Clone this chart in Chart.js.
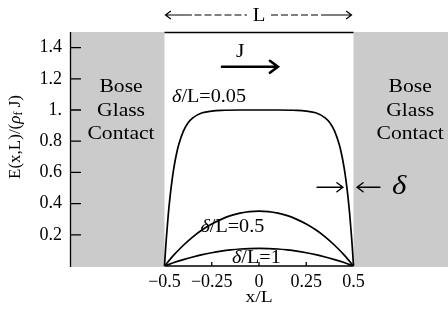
<!DOCTYPE html>
<html>
<head>
<meta charset="utf-8">
<script src="https://cdn.jsdelivr.net/npm/chart.js@4"></script>
<style>
  html, body { margin: 0; padding: 0; background: #fff; }
  #wrap { width: 448px; height: 313px; }
</style>
</head>
<body>
<div id="wrap"><canvas id="chart" width="448" height="313"></canvas></div>
<script>
// x/L positions and E(x,L)/(rho_f J) values
const X_SMOOTH = [-0.5, -0.45, -0.4, -0.35, -0.3, -0.25, -0.2, -0.15, -0.1, -0.05, 0,
                  0.05, 0.1, 0.15, 0.2, 0.25, 0.3, 0.35, 0.4, 0.45, 0.5];
const E_HALF = [0, 0.071, 0.133, 0.187, 0.232, 0.269, 0.299, 0.323, 0.339, 0.349, 0.352,
                0.349, 0.339, 0.323, 0.299, 0.269, 0.232, 0.187, 0.133, 0.071, 0];
const E_ONE = [0, 0.022, 0.041, 0.058, 0.073, 0.085, 0.095, 0.103, 0.109, 0.112, 0.113,
               0.112, 0.109, 0.103, 0.095, 0.085, 0.073, 0.058, 0.041, 0.022, 0];
const X_SHARP = [-0.5, -0.495, -0.49, -0.48, -0.47, -0.46, -0.45, -0.44, -0.425, -0.4, -0.375, -0.35,
                 -0.3, -0.25, -0.2, -0.1, 0, 0.1, 0.2, 0.25, 0.3, 0.35, 0.375, 0.4, 0.425, 0.44,
                 0.45, 0.46, 0.47, 0.48, 0.49, 0.495, 0.5];
const E_SHARP = [0, 0.095, 0.181, 0.330, 0.451, 0.551, 0.632, 0.699, 0.777, 0.865, 0.918, 0.950,
                 0.982, 0.993, 0.998, 1.0, 1.0, 1.0, 0.998, 0.993, 0.982, 0.950, 0.918, 0.865, 0.777, 0.699,
                 0.632, 0.551, 0.451, 0.330, 0.181, 0.095, 0];
const X_TICKS = [-0.5, -0.25, 0, 0.25, 0.5];
const Y_TICKS = [0.2, 0.4, 0.6, 0.8, 1.0, 1.2, 1.4];
const CURVE_NAMES = ['0.05', '0.5', '1'];

const SERIF = '"Liberation Serif", "Times New Roman", serif';
const pts = (xs, ys) => xs.map((v, i) => ({ x: v, y: ys[i] }));
const fmtX = v => (v < 0 ? '\u2212' : '') + Math.abs(v);
const fmtY = v => (v === 1 ? '1.' : v.toFixed(1));

// draw a run of text pieces; parts: {t, it, size, dy}
function rich(ctx, parts, x, y, align, sx) {
  sx = sx || 1;
  let w = 0;
  parts.forEach(p => {
    ctx.font = (p.it ? 'italic ' : '') + (p.size || 18) + 'px ' + SERIF;
    p.w = ctx.measureText(p.t).width;
    w += p.w;
  });
  ctx.save();
  ctx.translate(x, y);
  ctx.scale(sx, 1);
  let cx = align === 'center' ? -w / 2 : 0;
  ctx.textBaseline = 'middle';
  ctx.textAlign = 'left';
  parts.forEach(p => {
    ctx.font = (p.it ? 'italic ' : '') + (p.size || 18) + 'px ' + SERIF;
    ctx.fillText(p.t, cx, p.dy || 0);
    cx += p.w;
  });
  ctx.restore();
}

function arrow(ctx, x1, x2, y, head, lw) {
  const dir = Math.sign(x2 - x1);
  ctx.save();
  ctx.lineWidth = lw;
  ctx.lineCap = 'round';
  ctx.beginPath();
  ctx.moveTo(x1, y); ctx.lineTo(x2, y);
  ctx.moveTo(x2 - dir * head, y - head * 0.75); ctx.lineTo(x2, y); ctx.lineTo(x2 - dir * head, y + head * 0.75);
  ctx.stroke();
  ctx.restore();
}

const frame = {
  id: 'frame',
  beforeDatasetsDraw(chart) {
    const { ctx, chartArea: a, scales: { x, y } } = chart;
    const xl = x.getPixelForValue(-0.5), xr = x.getPixelForValue(0.5);
    ctx.save();
    ctx.fillStyle = '#cbcbcb';
    ctx.fillRect(a.left, a.top, xl - a.left, a.bottom - a.top + 1);
    ctx.fillRect(xr, a.top, a.right - xr, a.bottom - a.top + 1);
    ctx.strokeStyle = '#000';
    ctx.lineWidth = 1.3;
    ctx.beginPath();
    ctx.moveTo(a.left + 0.5, a.top); ctx.lineTo(a.left + 0.5, a.bottom + 1);
    ctx.moveTo(xl, a.top + 0.5); ctx.lineTo(xr, a.top + 0.5);
    ctx.moveTo(xl, a.bottom); ctx.lineTo(xr, a.bottom);
    Y_TICKS.forEach(v => {
      const py = y.getPixelForValue(v);
      ctx.moveTo(a.left, py); ctx.lineTo(a.left + 11, py);
    });
    X_TICKS.slice(1, -1).forEach(v => {
      const px = x.getPixelForValue(v);
      ctx.moveTo(px, a.bottom); ctx.lineTo(px, a.bottom - 4);
    });
    ctx.stroke();
    ctx.restore();
  },
  afterDatasetsDraw(chart) {
    const { ctx, scales: { x, y } } = chart;
    const X = v => x.getPixelForValue(v), Y = v => y.getPixelForValue(v);
    ctx.save();
    ctx.fillStyle = '#000';
    ctx.strokeStyle = '#000';

    // L bracket above the sample
    const ly = 15, l0 = X(-0.5) + 1, l1 = X(0.5) - 2, lc = X(0);
    arrow(ctx, l0 + 26, l0, ly, 5, 1.2);
    arrow(ctx, l1 - 30, l1, ly, 5, 1.2);
    ctx.save();
    ctx.lineWidth = 1.2;
    ctx.setLineDash([7, 3]);
    ctx.beginPath();
    ctx.moveTo(l0 + 29, ly); ctx.lineTo(lc - 12, ly);
    ctx.moveTo(lc + 12, ly); ctx.lineTo(l1 - 32, ly);
    ctx.stroke();
    ctx.restore();
    rich(ctx, [{ t: 'L' }], lc, ly + 1, 'center', 1.15);

    // current arrow
    rich(ctx, [{ t: 'J', size: 18 }], X(-0.1), Y(1.37), 'center', 1.2);
    arrow(ctx, X(-0.196), X(0.1), Y(1.277), 8, 2.6);

    // curve labels
    const lab = [[-0.46, 1.08], [-0.31, 0.25], [-0.143, 0.05]];
    CURVE_NAMES.forEach((n, i) => {
      rich(ctx, [{ t: '\u03b4', it: true }, { t: '/L=' + n }], X(lab[i][0]), Y(lab[i][1]), 'left', 1.12);
    });

    // penetration depth marker
    arrow(ctx, X(0.307), X(0.444), Y(0.505), 6, 1.4);
    arrow(ctx, X(0.64), X(0.519), Y(0.505), 6, 1.4);
    rich(ctx, [{ t: '\u03b4', it: true, size: 28 }], X(0.704), Y(0.51), 'left', 1.1);

    // contacts
    [-0.73, 0.8].forEach(cx => {
      ['Bose', 'Glass', 'Contact'].forEach((w, k) => {
        rich(ctx, [{ t: w }], X(cx), Y([1.148, 0.99, 0.845][k]), 'center', 1.2);
      });
    });

    // y axis title with subscript
    ctx.save();
    ctx.translate(16, 137);
    ctx.rotate(-Math.PI / 2);
    rich(ctx, [{ t: 'E(x,L)/(', size: 17 }, { t: '\u03c1', it: true, size: 17 },
               { t: 'f', size: 12, dy: 3 }, { t: ' J)', size: 17 }], 0, 0, 'center', 1);
    ctx.restore();

    // x axis title
    rich(ctx, [{ t: 'x/L', size: 17 }], X(0), 298, 'center', 1.15);
    ctx.restore();
  }
};

const line = (data, w) => ({
  data, borderColor: '#000', borderWidth: w, pointRadius: 0,
  cubicInterpolationMode: 'monotone', fill: false,
});

new Chart(document.getElementById('chart'), {
  type: 'line',
  data: {
    datasets: [
      line(pts(X_SHARP, E_SHARP), 1.7),
      line(pts(X_SMOOTH, E_HALF), 1.7),
      line(pts(X_SMOOTH, E_ONE), 1.7),
    ],
  },
  options: {
    responsive: false,
    animation: false,
    layout: { padding: { top: 32, right: 0, left: 0, bottom: 0 } },
    plugins: { legend: { display: false }, tooltip: { enabled: false } },
    scales: {
      x: {
        type: 'linear', min: -1, max: 1,
        afterBuildTicks: s => { s.ticks = X_TICKS.map(v => ({ value: v })); },
        afterFit: s => { s.height = 47; },
        grid: { display: false, drawTicks: false },
        border: { display: false },
        ticks: { color: '#000', font: { family: SERIF, size: 18 }, padding: 5,
                 maxRotation: 0, autoSkip: false, callback: fmtX },
      },
      y: {
        min: 0, max: 1.5,
        afterBuildTicks: s => { s.ticks = Y_TICKS.map(v => ({ value: v })); },
        afterFit: s => { s.width = 70; },
        grid: { display: false, drawTicks: false },
        border: { display: false },
        ticks: { color: '#000', font: { family: SERIF, size: 18 }, padding: 8, callback: fmtY },
      },
    },
  },
  plugins: [frame],
});
</script>
</body>
</html>
